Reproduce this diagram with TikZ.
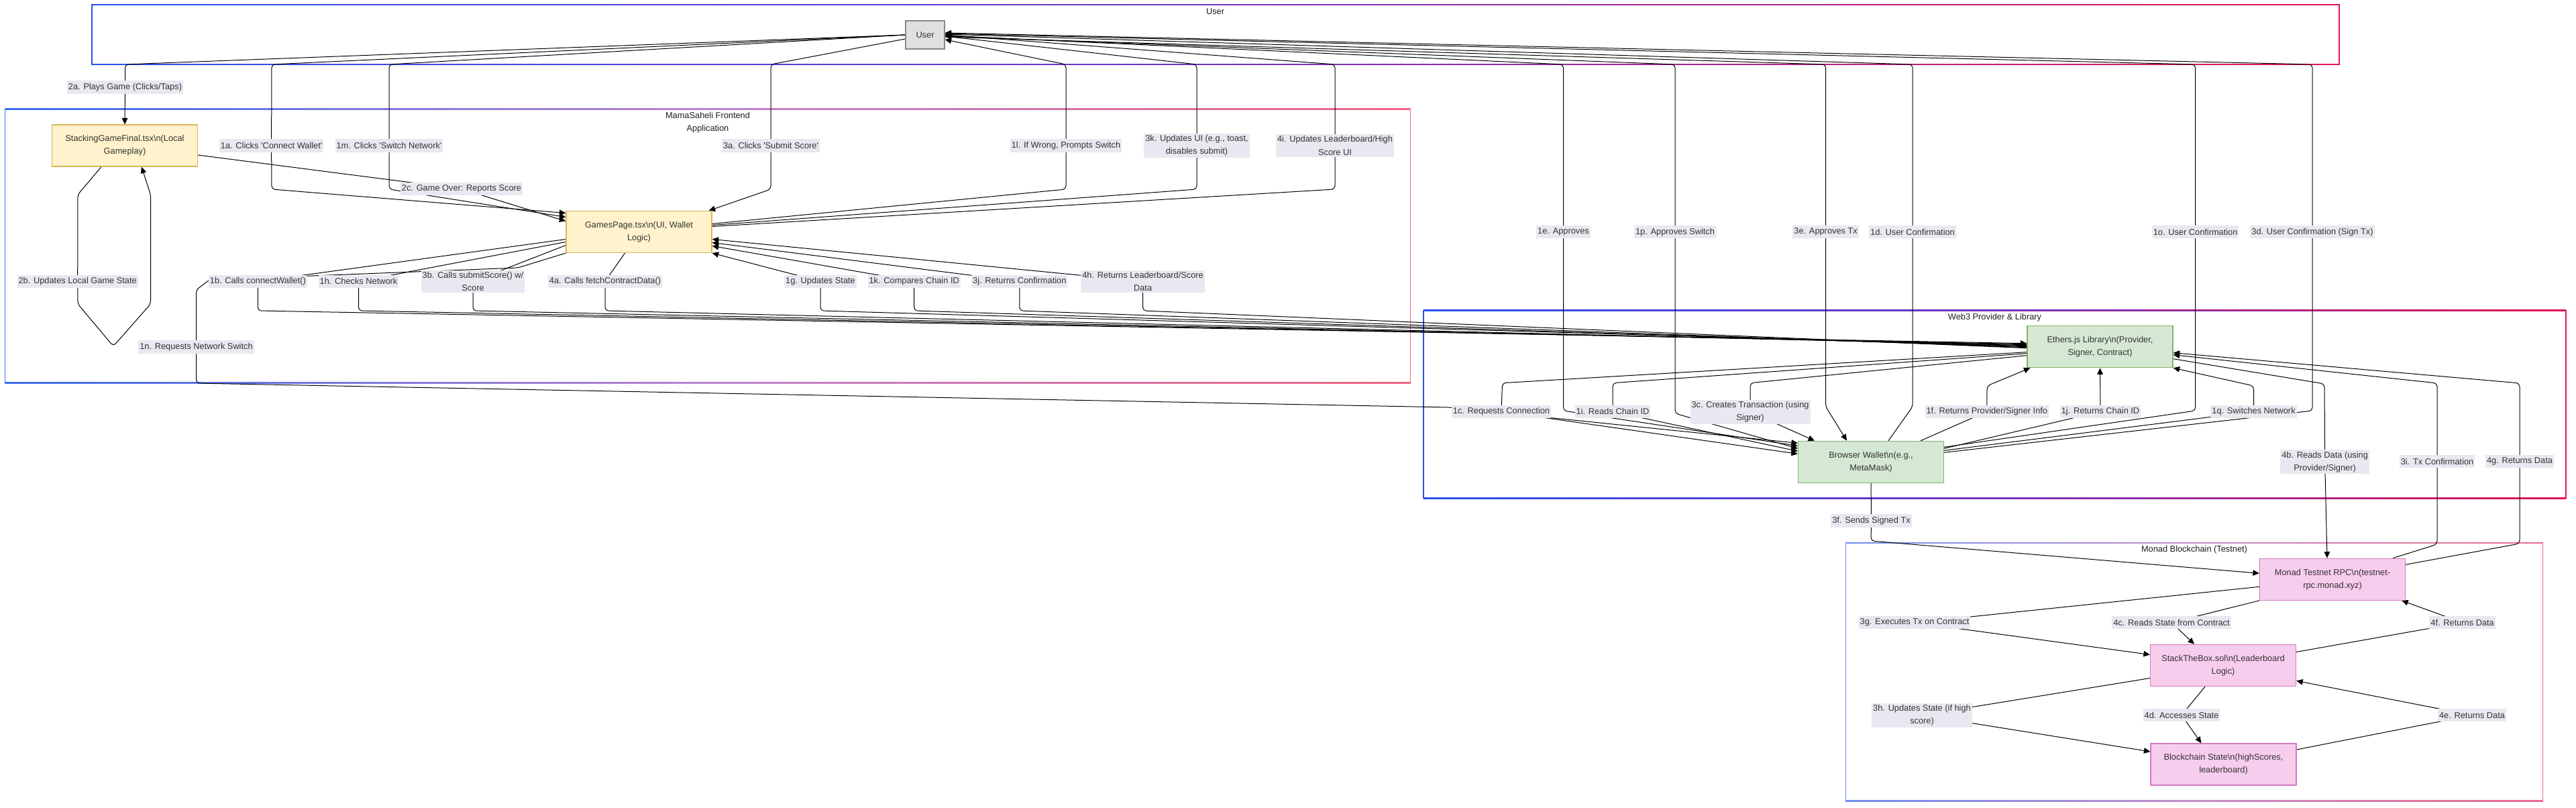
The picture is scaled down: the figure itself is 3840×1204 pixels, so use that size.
\documentclass[tikz,border=0pt]{standalone}
\usepackage{fontspec}
\setmainfont{Liberation Sans}
\usetikzlibrary{arrows.meta}
\pgfdeclarelayer{clusters}
\pgfdeclarelayer{edges}
\pgfsetlayers{clusters,edges,main}
\definecolor{yfill}{HTML}{FFF2CC}
\definecolor{ydraw}{HTML}{D6B656}
\definecolor{gfill}{HTML}{D5E8D4}
\definecolor{gdraw}{HTML}{82B366}
\definecolor{pfill}{RGB}{247,205,237}
\definecolor{pdraw}{RGB}{214,120,190}
\definecolor{ufill}{HTML}{E0E0E0}
\definecolor{udraw}{HTML}{888888}
\definecolor{lblbg}{RGB}{232,232,240}
\definecolor{txt}{HTML}{333333}
\definecolor{ttl}{HTML}{1E1E1E}
\definecolor{uA}{RGB}{40,80,240}
\definecolor{uM}{RGB}{115,50,190}
\definecolor{uB}{RGB}{230,20,80}
\definecolor{fA}{RGB}{60,110,240}
\definecolor{fM}{RGB}{185,130,205}
\definecolor{fB}{RGB}{240,100,130}
\definecolor{mA}{RGB}{110,140,240}
\definecolor{mM}{RGB}{195,140,200}
\definecolor{mB}{RGB}{235,105,140}
\newcommand{\clframe}[7]{%
  \shade[left color=#5,right color=#7,middle color=#6] (#1,#2-0.8) rectangle (#3,#2+0.8);
  \shade[left color=#5,right color=#7,middle color=#6] (#1,#4-0.8) rectangle (#3,#4+0.8);
  \fill[#5] (#1-0.8,#2-0.8) rectangle (#1+0.8,#4+0.8);
  \fill[#7] (#3-0.8,#2-0.8) rectangle (#3+0.8,#4+0.8);
}
\begin{document}
\begin{tikzpicture}[x=1pt,y=-1pt,
  font=\fontsize{12.8pt}{19.2pt}\selectfont,
  box/.style={minimum width=217pt,minimum height=62pt,inner sep=0pt,align=center,text=txt,line width=1.2pt},
  ybox/.style={box,fill=yfill,draw=ydraw},
  gbox/.style={box,fill=gfill,draw=gdraw},
  pbox/.style={box,fill=pfill,draw=pdraw},
  ubox/.style={minimum width=58pt,minimum height=42pt,inner sep=0pt,fill=ufill,draw=udraw,line width=1.2pt,text=txt},
  lbl/.style={fill=lblbg,text=txt,inner xsep=2pt,inner ysep=2.4pt,minimum height=19.2pt,align=center},
  ctitle/.style={text=ttl,inner sep=0pt,align=center},
  conn/.style={draw=black,line width=1pt,rounded corners=5pt,-{Triangle[length=9.5pt,width=8.5pt]}}]
\useasboundingbox (0,0) rectangle (3840,1204);

% clusters
\begin{pgfonlayer}{clusters}
\fill[white] (0,0) rectangle (3840,1204);
\clframe{137}{7}{3487}{96}{uA}{uM}{uB}
\clframe{7.5}{162.7}{2102.5}{570.7}{fA}{fM}{fB}
\clframe{2122}{462.3}{3825}{742.3}{uA}{uM}{uB}
\clframe{2751.6}{809}{3790.5}{1193.7}{mA}{mM}{mB}
\end{pgfonlayer}
\node[ctitle] (tUser) at (1811.5,17.3) {User};
\node[ctitle] (tFront) at (1055,182.7) {MamaSaheli Frontend\\Application};
\node[ctitle] (tWeb) at (2973.5,472.7) {Web3 Provider \& Library};
\node[ctitle] (tMonad) at (3271,819) {Monad Blockchain (Testnet)};

% nodes
\node[ubox] (user) at (1379,52) {User};
\node[ybox] (sgf) at (186,217) {StackingGameFinal.tsx\textbackslash n(Local\\Gameplay)};
\node[ybox] (gp) at (952.5,345.5) {GamesPage.tsx\textbackslash n(UI, Wallet\\Logic)};
\node[gbox] (eth) at (3130.5,516.7) {Ethers.js Library\textbackslash n(Provider,\\Signer, Contract)};
\node[gbox] (wal) at (2789,688.3) {Browser Wallet\textbackslash n(e.g.,\\MetaMask)};
\node[pbox] (rpc) at (3477,863.3) {Monad Testnet RPC\textbackslash n(testnet-\\rpc.monad.xyz)};
\node[pbox] (stb) at (3314,991.5) {StackTheBox.sol\textbackslash n(Leaderboard\\Logic)};
\node[pbox] (bs) at (3314.5,1139) {Blockchain State\textbackslash n(highScores,\\leaderboard)};

% labels
\node[lbl] (l2a) at (186.5,130) {2a. Plays Game (Clicks/Taps)};
\node[lbl] (l1a) at (404.6,217) {1a. Clicks \textquotesingle Connect Wallet\textquotesingle};
\node[lbl] (l1m) at (580,217) {1m. Clicks \textquotesingle Switch Network\textquotesingle};
\node[lbl] (l3a) at (1149,217) {3a. Clicks \textquotesingle Submit Score\textquotesingle};
\node[lbl] (l1l) at (1589,217) {1l. If Wrong, Prompts Switch};
\node[lbl] (l3k) at (1784,217) {3k. Updates UI (e.g., toast,\\disables submit)};
\node[lbl] (l4i) at (1990,217) {4i. Updates Leaderboard/High\\Score UI};
\node[lbl] (l2c) at (688,281.7) {2c. Game Over: Reports Score};
\node[lbl] (l2b) at (115.7,419.3) {2b. Updates Local Game State};
\node[lbl] (l1b) at (384.4,419.3) {1b. Calls connectWallet()};
\node[lbl] (l1h) at (534.5,419.3) {1h. Checks Network};
\node[lbl] (l3b) at (705,419.3) {3b. Calls submitScore() w/\\Score};
\node[lbl] (l4a) at (902,419.3) {4a. Calls fetchContractData()};
\node[lbl] (l1n) at (292.5,517) {1n. Requests Network Switch};
\node[lbl] (l1g) at (1223,419.3) {1g. Updates State};
\node[lbl] (l1k) at (1362.7,419.3) {1k. Compares Chain ID};
\node[lbl] (l3j) at (1519.8,419.3) {3j. Returns Confirmation};
\node[lbl] (l4h) at (1703.6,419.3) {4h. Returns Leaderboard/Score\\Data};
\node[lbl] (l1e) at (2330.5,345.7) {1e. Approves};
\node[lbl] (l1p) at (2497,345.7) {1p. Approves Switch};
\node[lbl] (l3e) at (2721.6,345.7) {3e. Approves Tx};
\node[lbl] (l1d) at (2851,345.7) {1d. User Confirmation};
\node[lbl] (l1o) at (3272.6,345.7) {1o. User Confirmation};
\node[lbl] (l3d) at (3447,345.7) {3d. User Confirmation (Sign Tx)};
\node[lbl] (l1c) at (2238,613.3) {1c. Requests Connection};
\node[lbl] (l1i) at (2404,613.3) {1i. Reads Chain ID};
\node[lbl] (l3c) at (2609,614) {3c. Creates Transaction (using\\Signer)};
\node[lbl] (l1f) at (2961.8,613.3) {1f. Returns Provider/Signer Info};
\node[lbl] (l1j) at (3131,613.3) {1j. Returns Chain ID};
\node[lbl] (l1q) at (3359.5,613.3) {1q. Switches Network};
\node[lbl] (l4b) at (3465.6,688.3) {4b. Reads Data (using\\Provider/Signer)};
\node[lbl] (l3i) at (3633,687.7) {3i. Tx Confirmation};
\node[lbl] (l4g) at (3756,687.7) {4g. Returns Data};
\node[lbl] (l3f) at (2789.5,776) {3f. Sends Signed Tx};
\node[lbl] (l3g) at (2854,927.7) {3g. Executes Tx on Contract};
\node[lbl] (l4c) at (3237,927.7) {4c. Reads State from Contract};
\node[lbl] (l4f) at (3670.6,927.7) {4f. Returns Data};
\node[lbl] (l3h) at (2865,1065.7) {3h. Updates State (if high\\score)};
\node[lbl] (l4d) at (3252,1065.7) {4d. Accesses State};
\node[lbl] (l4e) at (3685,1065.7) {4e. Returns Data};

\begin{pgfonlayer}{edges}
% from user (left side)
\draw[conn] (user.west) -- (186.5,96) -- (l2a.center) -- (sgf.north);
\draw[conn] (user.west) -- (405,96) -- (l1a.center) -- (405,282) -- ([yshift=28pt]gp.west);
\draw[conn] (user.west) -- (580,96) -- (l1m.center) -- (580,282) -- ([yshift=22pt]gp.west);
\draw[conn] ([yshift=-6pt]user.west) -- (1149,96) -- (l3a.center) -- (1149,282) -- ([xshift=-5pt]gp.north east);
\draw[conn] ([yshift=-14pt]sgf.east) -- (l2c.center) -- ([yshift=16pt]gp.west);
% self loop
\draw[conn] ([xshift=-35pt]sgf.south) -- (116,290) -- (l2b.center) -- (116,453) -- (169,516) -- (224.5,453) -- (224.5,290) -- ([xshift=25pt]sgf.south);
% to user
\draw[conn] ([yshift=12pt]gp.east) -- (1589,282) -- (l1l.center) -- (1589,96) -- ([yshift=-7pt]user.east);
\draw[conn] ([yshift=10pt]gp.east) -- (1784,282) -- (l3k.center) -- (1784,96) -- ([yshift=-2pt]user.east);
\draw[conn] ([yshift=8pt]gp.east) -- (1990,282) -- (l4i.center) -- (1990,96) -- (user.east);
\draw[conn] ([xshift=26pt]wal.north) -- (2851,606) -- (l1d.center) -- (2851,96) -- ([yshift=1pt]user.east);
\draw[conn] ([yshift=22pt]wal.east) -- (3272.6,612) -- (l1o.center) -- (3272.6,96) -- ([yshift=2pt]user.east);
\draw[conn] ([yshift=14pt]wal.east) -- (3447,612) -- (l3d.center) -- (3447,96) -- ([yshift=3pt]user.east);
% user to wallet
\draw[conn] ([yshift=-1pt]user.east) -- (2330.5,96) -- (l1e.center) -- (2330.5,612) -- ([yshift=24pt]wal.west);
\draw[conn] ([yshift=-2pt]user.east) -- (2497,96) -- (l1p.center) -- (2497,616) -- ([yshift=20pt]wal.west);
\draw[conn] ([yshift=-3pt]user.east) -- (2721.6,96) -- (l3e.center) -- (2721.6,606) -- ([xshift=-36pt]wal.north);
% GP to ethers
\draw[conn] ([yshift=-11pt]gp.west) -- (l1b.center) -- (384.4,463) -- ([yshift=5pt]eth.west);
\draw[conn] ([yshift=-15pt]gp.west) -- (l1h.center) -- (534.5,463) -- ([yshift=4pt]eth.west);
\draw[conn] ([yshift=-20pt]gp.west) -- (l3b.center) -- (705,463) -- ([yshift=3pt]eth.west);
\draw[conn] ([xshift=-21pt]gp.south) -- (l4a.center) -- (902,463) -- ([yshift=2pt]eth.west);
% ethers to GP
\draw[conn] ([yshift=1pt]eth.west) -- (1223,463) -- (l1g.center) -- (gp.south east);
\draw[conn] (eth.west) -- (1362.7,463) -- (l1k.center) -- ([yshift=-21pt]gp.east);
\draw[conn] ([yshift=-1pt]eth.west) -- (1519.8,463) -- (l3j.center) -- ([yshift=-16pt]gp.east);
\draw[conn] ([yshift=-2pt]eth.west) -- (1703.6,463) -- (l4h.center) -- ([yshift=-11pt]gp.east);
% GP to wallet
\draw[conn] (gp.south west) -- (772,399) -- (312,417) -- (292.5,432) -- (l1n.center) -- (292.5,571) -- (2160,607) -- ([yshift=28pt]wal.west);
% ethers to wallet
\draw[conn] ([yshift=-8pt]eth.west) -- (2239.5,570.7) -- (l1c.center) -- ([yshift=12pt]wal.west);
\draw[conn] ([yshift=-10pt]eth.west) -- (2404,570.7) -- (l1i.center) -- ([yshift=16pt]wal.west);
\draw[conn] ([yshift=-13pt]eth.west) -- (2609,570.7) -- (l3c.center) -- ([xshift=-84pt]wal.north);
% wallet to ethers
\draw[conn] ([xshift=-35pt]wal.north east) -- (l1f.center) -- (2962,575) -- ([xshift=5pt]eth.south west);
\draw[conn] ([yshift=20pt]wal.east) -- (l1j.center) -- (eth.south);
\draw[conn] ([yshift=17pt]wal.east) -- (l1q.center) -- (3359.5,575) -- (eth.south east);
% ethers <-> rpc
\draw[conn] ([yshift=-18pt]eth.east) -- (3465,572) -- (l4b.center) -- ([xshift=-8pt]rpc.north);
\draw[conn] ([xshift=-19pt]rpc.north east) -- (3633,811) -- (l3i.center) -- (3633,571) -- ([yshift=-12pt]eth.east);
\draw[conn] ([yshift=22pt]rpc.east) -- (3756,810) -- (l4g.center) -- (3756,571) -- ([yshift=-9pt]eth.east);
% wallet to rpc
\draw[conn] (wal.south) -- (l3f.center) -- (2789,806) -- ([yshift=9pt]rpc.west);
% monad internals
\draw[conn] ([yshift=-11pt]rpc.west) -- (l3g.center) -- ([yshift=16pt]stb.west);
\draw[conn] (rpc.south west) -- (l4c.center) -- ([xshift=-43pt]stb.north);
\draw[conn] ([yshift=20pt]stb.east) -- (l4f.center) -- ([xshift=-6pt]rpc.south east);
\draw[conn] ([yshift=-19pt]stb.west) -- (l3h.center) -- ([yshift=19pt]bs.west);
\draw[conn] ([xshift=-27pt]stb.south) -- (l4d.center) -- ([xshift=-33pt]bs.north);
\draw[conn] ([yshift=22pt]bs.east) -- (l4e.center) -- ([yshift=-23pt]stb.east);
\end{pgfonlayer}
\end{tikzpicture}
\end{document}
